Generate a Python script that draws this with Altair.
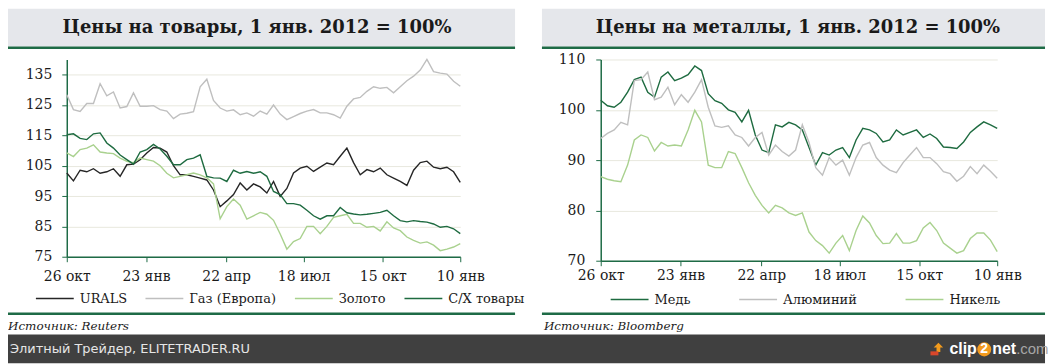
import altair as alt
import pandas as pd

START = "2011-10-26"
END = "2013-01-10"
N = 60

# ---- left panel: commodities (1 Jan 2012 = 100%) ----
urals = [102.6, 100.0, 103.5, 103.0, 104.0, 102.5, 103.0, 104.0, 101.5, 105.3,
         105.5, 107.0, 109.2, 111.0, 110.8, 109.5, 105.0, 102.0, 102.0, 101.5,
         100.9, 100.3, 97.0, 91.5, 93.4, 95.5, 99.3, 97.0, 99.0, 98.0,
         96.0, 99.8, 94.9, 97.5, 102.6, 104.2, 104.8, 103.1, 104.5, 105.9,
         105.3, 108.1, 110.8, 106.0, 102.0, 103.7, 103.0, 104.2, 102.0, 100.9,
         99.8, 98.5, 103.5, 106.0, 106.5, 104.5, 104.0, 104.5, 103.0, 99.5]
gas = [128.4, 123.5, 122.9, 125.5, 125.5, 132.0, 128.0, 129.3, 124.0, 124.5,
       129.0, 124.6, 124.6, 124.8, 123.5, 123.0, 120.5, 122.0, 122.3, 122.8,
       131.0, 133.5, 126.5, 124.0, 123.0, 123.4, 121.8, 122.4, 121.3, 123.0,
       122.0, 125.0, 122.0, 120.2, 121.2, 122.2, 123.0, 123.5, 122.4, 122.4,
       121.8, 120.7, 124.6, 127.0, 127.5, 129.5, 131.0, 130.5, 130.8, 129.0,
       131.0, 133.0, 134.5, 136.5, 140.0, 136.0, 135.5, 135.2, 132.8, 131.2]
gold = [109.2, 108.0, 110.3, 110.8, 111.9, 109.5, 109.2, 109.0, 107.5, 106.4,
        106.0, 107.5, 107.0, 106.5, 105.0, 102.5, 101.0, 101.5, 102.0, 102.6,
        102.0, 101.0, 99.0, 87.5, 91.5, 94.0, 92.0, 87.4, 88.5, 89.6,
        89.0, 87.0, 82.5, 77.5, 80.0, 81.0, 85.0, 85.0, 82.6, 85.0,
        88.0, 88.5, 89.0, 86.0, 86.0, 84.7, 85.0, 83.5, 86.5, 84.5,
        83.6, 81.5, 80.4, 79.5, 79.9, 78.8, 77.0, 77.5, 78.2, 79.3]
agri = [115.2, 115.5, 114.0, 113.6, 115.5, 115.8, 112.5, 110.8, 108.5, 107.0,
        105.5, 109.5, 110.3, 112.0, 110.5, 108.1, 105.3, 105.3, 107.0, 107.5,
        108.6, 101.5, 101.0, 100.9, 99.8, 103.5, 102.5, 103.1, 102.5, 103.0,
        101.5, 96.5, 95.5, 92.5, 92.5, 92.0, 90.3, 88.5, 87.4, 88.5,
        88.5, 91.2, 89.5, 89.1, 88.8, 89.0, 89.3, 89.6, 90.3, 88.5,
        86.9, 86.5, 86.9, 86.6, 86.4, 85.8, 84.7, 85.0, 84.2, 82.6]

# ---- right panel: metals (1 Jan 2012 = 100%) ----
copper = [101.9, 100.8, 100.5, 101.5, 103.5, 106.0, 106.5, 103.5, 102.5, 106.5,
          107.5, 105.8, 106.3, 107.0, 108.7, 107.8, 103.2, 101.8, 101.3, 100.0,
          99.5, 97.6, 99.9, 95.0, 92.0, 91.5, 97.0, 96.6, 97.5, 97.0,
          96.0, 92.5, 89.0, 91.5, 91.0, 92.0, 92.5, 90.5, 94.0, 96.3,
          96.0, 95.3, 93.6, 94.0, 96.0, 95.0, 95.5, 96.0, 94.5, 95.2,
          94.3, 92.6, 92.5, 92.3, 93.6, 95.5, 96.6, 97.6, 97.0, 96.3]
aluminium = [94.3, 95.3, 96.0, 97.5, 97.0, 105.8, 106.0, 107.5, 102.0, 102.5,
             104.5, 101.0, 103.0, 101.5, 103.5, 106.0, 100.5, 96.8, 96.5, 96.8,
             95.0, 94.5, 92.8, 94.5, 95.5, 91.0, 93.0, 91.7, 90.8, 92.0,
             97.0, 93.5, 88.5, 87.0, 90.5, 89.0, 90.0, 87.0, 90.5, 93.0,
             93.5, 90.5, 89.0, 88.0, 87.5, 89.5, 91.0, 92.5, 90.5, 90.5,
             89.3, 87.7, 87.3, 85.8, 86.8, 88.7, 87.3, 89.0, 87.8, 86.4]
nickel = [86.7, 86.2, 85.9, 85.7, 89.0, 94.0, 95.0, 94.5, 91.8, 93.5,
          92.8, 93.0, 92.8, 96.0, 99.9, 97.6, 89.0, 88.5, 88.5, 91.7,
          91.3, 88.5, 85.5, 83.0, 81.0, 79.5, 81.0, 80.5, 79.5, 79.0,
          79.5, 75.7, 74.0, 73.0, 71.5, 73.5, 75.0, 72.0, 76.0, 78.9,
          77.5, 75.0, 73.4, 73.5, 75.4, 73.5, 73.5, 74.0, 76.5, 77.6,
          76.0, 73.5, 72.5, 71.5, 72.0, 74.4, 75.5, 75.5, 74.1, 71.8]

left_series = ["URALS", "Газ (Европа)", "Золото", "С/Х товары"]
left_colors = ["#262626", "#bfbfbf", "#a9d18e", "#1e6b40"]
right_series = ["Медь", "Алюминий", "Никель"]
right_colors = ["#1e6b40", "#bfbfbf", "#a9d18e"]

tick_dates = ["2011-10-26", "2012-01-23", "2012-04-22", "2012-07-18", "2012-10-15", "2013-01-10"]
left_ticks = [75, 85, 95, 105, 115, 125, 135]
right_ticks = [70, 80, 90, 100, 110]

title_left = "Цены на товары, 1 янв. 2012 = 100%"
title_right = "Цены на металлы, 1 янв. 2012 = 100%"
source_left = "Источник: Reuters"
source_right = "Источник: Bloomberg"
footer_text = "Элитный Трейдер, ELITETRADER.RU"

GREEN = "#1e6b46"
BAR = "#e5e7eb"
FOOT = "#404040"


def ms(s):
    return int(pd.Timestamp(s, tz="UTC").value // 10**6)


dates = pd.date_range(pd.Timestamp(START, tz="UTC"), pd.Timestamp(END, tz="UTC"), periods=N)
t = [int(d.value // 10**6) for d in dates]


def long_df(names, arrays):
    rows = []
    for name, arr in zip(names, arrays):
        for ti, v in zip(t, arr):
            rows.append({"t": ti, "v": v, "s": name})
    return pd.DataFrame(rows)


left_df = long_df(left_series, [urals, gas, gold, agri])
right_df = long_df(right_series, [copper, aluminium, nickel])
one = pd.DataFrame({"k": [0]})

MONTHS = "['янв','фев','мар','апр','май','июн','июл','авг','сен','окт','ноя','дек']"
LABEL_EXPR = "utcdate(datum.value) + ' ' + " + MONTHS + "[utcmonth(datum.value)]"


def xenc(pad):
    return alt.X(
        "t:T",
        scale=alt.Scale(type="utc", domain=[ms(START), ms(END)], nice=False),
        axis=alt.Axis(values=[ms(d) for d in tick_dates], labelExpr=LABEL_EXPR, title=None,
                      grid=False, domainColor=GREEN, domainWidth=1.5, tickColor=GREEN,
                      tickSize=5, labelPadding=pad, labelFont="DejaVu Serif", labelFontSize=14,
                      labelColor="#1a1a1a", labelFlush=False, labelOverlap=False),
    )


def yenc(domain, ticks, pad):
    return alt.Y(
        "v:Q",
        scale=alt.Scale(domain=domain, nice=False, zero=False),
        axis=alt.Axis(values=ticks, title=None, grid=True, gridColor="#e8e8de", gridWidth=1,
                      domainColor=GREEN, domainWidth=1.5, tickColor=GREEN, tickSize=5,
                      labelPadding=pad, labelFont="DejaVu Serif", labelFontSize=14,
                      labelColor="#1a1a1a"),
    )


def legend(x, y, cols, colpad):
    return alt.Legend(orient="none", legendX=x, legendY=y, direction="horizontal", columns=cols,
                      symbolType="stroke", symbolSize=1444, symbolStrokeWidth=1.5,
                      labelFont="DejaVu Serif", labelFontSize=13, labelColor="#1a1a1a",
                      labelOffset=5, columnPadding=colpad, title=None, padding=0)


def rect(x, x2, y, y2, color):
    return alt.Chart(one).mark_rect(color=color).encode(
        x=alt.value(x), x2=alt.value(x2), y=alt.value(y), y2=alt.value(y2))


def text(s, x, y, size, font="DejaVu Serif", weight="normal", style="normal", align="left",
         color="#1a1a1a"):
    return alt.Chart(one).mark_text(font=font, fontSize=size, fontWeight=weight, fontStyle=style,
                                    align=align, baseline="middle", color=color).encode(
        x=alt.value(x), y=alt.value(y), text=alt.value(s))


# left panel: plot origin at page (67, 59)
lines_left = alt.Chart(left_df).mark_line(strokeWidth=1.4).encode(
    x=xenc(8),
    y=yenc([75, 140], left_ticks, 10),
    color=alt.Color("s:N", scale=alt.Scale(domain=left_series, range=left_colors),
                    legend=legend(-32, 220, 4, 15)),
)

left = alt.layer(
    rect(-59, 450, -51, -13, BAR),
    rect(-59, 450, -13, -10.5, GREEN),
    text(title_left, 191, -32, 18, weight="bold", align="center"),
    rect(-59, 450, 254, 256.5, GREEN),
    text(source_left, -59, 268, 12, style="italic"),
    rect(-59, 982, 276, 305, FOOT),
    text(footer_text, -57, 291, 13, font="DejaVu Sans", color="#e6e6e6"),
    lines_left,
).properties(width=395, height=198)

# right panel: plot origin at page (603, 59)
lines_right = alt.Chart(right_df).mark_line(strokeWidth=1.4).encode(
    x=xenc(3),
    y=yenc([70, 110], right_ticks, 11),
    color=alt.Color("s:N", scale=alt.Scale(domain=right_series, range=right_colors),
                    legend=legend(9, 221, 3, 45)),
)

ARROW = "M0,-1 L1,0 L0.4,0 L0.4,1 L-0.4,1 L-0.4,0 L-1,0 Z"

right = alt.layer(
    rect(-59, 446, -51, -13, BAR),
    rect(-59, 446, -13, -10.5, GREEN),
    text(title_right, 198, -32, 18, weight="bold", align="center"),
    rect(-59, 446, 254, 256.5, GREEN),
    text(source_right, -57, 268, 12, style="italic"),
    lines_right,
    alt.Chart(one).mark_point(shape=ARROW, filled=True, color="#f29b1d", size=90, opacity=1).encode(
        x=alt.value(339), y=alt.value(289)),
    rect(331, 339, 293, 297, "#d9472b"),
    text("clip", 350, 291, 16, font="Liberation Sans", weight="bold", color="#ffffff"),
    alt.Chart(one).mark_point(shape="circle", filled=True, color="#f39a1e", size=200, opacity=1).encode(
        x=alt.value(385), y=alt.value(291)),
    text("2", 385, 291, 14, font="Liberation Sans", weight="bold", align="center", color="#ffffff"),
    text("net", 393, 291, 16, font="Liberation Sans", weight="bold", color="#ffffff"),
    text(".com", 417, 291, 15, font="Liberation Sans", color="#a6a6a6"),
).properties(width=398, height=202)

chart = alt.hconcat(left, right, spacing=141, bounds="flush").resolve_scale(
    color="independent", x="independent", y="independent"
).resolve_legend(color="independent").properties(
    padding=0, background="white"
).configure_view(stroke=None)

chart.save("out.html", embed_options={"renderer": "svg", "actions": False})
